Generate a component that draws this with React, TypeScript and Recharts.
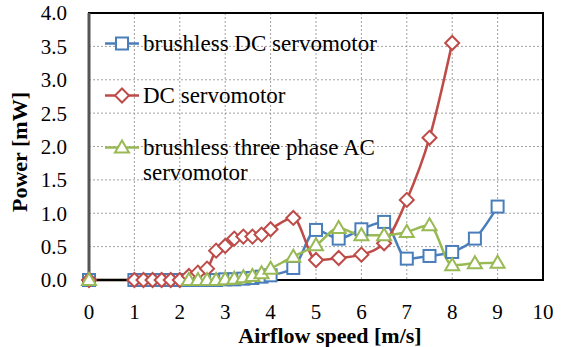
import {
  CartesianGrid,
  Label,
  Legend,
  Line,
  LineChart,
  ReferenceArea,
  XAxis,
  YAxis,
} from "recharts";

const speedTicks = [0, 1, 2, 3, 4, 5, 6, 7, 8, 9, 10];
const powerTicks = [0, 0.5, 1, 1.5, 2, 2.5, 3, 3.5, 4];

const brushlessDcSpeed = [
  0, 1, 1.2, 1.4, 1.6, 1.8, 2, 2.2, 2.4, 2.6, 2.8, 3, 3.2, 3.4, 3.6, 3.8, 4, 4.5, 5, 5.5, 6, 6.5, 7, 7.5,
  8, 8.5, 9,
];
const brushlessDcPower = [
  0, 0, 0, 0, 0, 0, 0, 0, 0, 0, 0, 0.01, 0.01, 0.02, 0.03, 0.05, 0.07, 0.18, 0.75, 0.62, 0.76, 0.87,
  0.32, 0.36, 0.42, 0.62, 1.1,
];

const dcSpeed = [
  0, 1, 1.2, 1.4, 1.6, 1.8, 2, 2.2, 2.4, 2.6, 2.8, 3, 3.2, 3.4, 3.6, 3.8, 4, 4.5, 5, 5.5, 6, 6.5, 7, 7.5,
  8,
];
const dcPower = [
  0, 0, 0, 0, 0, 0, 0, 0.06, 0.11, 0.17, 0.44, 0.51, 0.62, 0.65, 0.65, 0.68, 0.76, 0.93, 0.3, 0.33, 0.38,
  0.55, 1.2, 2.13, 3.55,
];

const acSpeed = [0, 2.2, 2.4, 2.6, 2.8, 3, 3.2, 3.4, 3.6, 3.8, 4, 4.5, 5, 5.5, 6, 6.5, 7, 7.5, 8, 8.5, 9];
const acPower = [
  0, 0, 0, 0, 0, 0.01, 0.02, 0.04, 0.06, 0.1, 0.17, 0.35, 0.52, 0.78, 0.67, 0.67, 0.72, 0.82, 0.22,
  0.25, 0.26,
];

const toPoints = (xs: number[], ys: number[]) => xs.map((speed, i) => ({ speed, power: ys[i] }));

const SERIF = "'Liberation Serif', 'Times New Roman', serif";
const BLUE = "#4a7ebb";
const RED = "#be4b48";
const GREEN = "#98b954";

type Shape = "square" | "diamond" | "triangle";

function Marker({ cx, cy, shape, color }: { cx: number; cy: number; shape: Shape; color: string }) {
  if (shape === "square") {
    return <rect x={cx - 6} y={cy - 6} width={12} height={12} fill="#fff" stroke={color} strokeWidth={2} />;
  }
  if (shape === "diamond") {
    return (
      <polygon
        points={`${cx},${cy - 7} ${cx + 7},${cy} ${cx},${cy + 7} ${cx - 7},${cy}`}
        fill="#fff"
        stroke={color}
        strokeWidth={2}
      />
    );
  }
  return (
    <polygon
      points={`${cx},${cy - 7} ${cx + 7},${cy + 5} ${cx - 7},${cy + 5}`}
      fill="#fff"
      stroke={color}
      strokeWidth={2}
    />
  );
}

const dotFor = (shape: Shape, color: string) => (props: any) =>
  <Marker key={`${shape}-${props.index}`} cx={props.cx} cy={props.cy} shape={shape} color={color} />;

const legendItems: { name: string; color: string; shape: Shape }[] = [
  { name: "brushless DC servomotor", color: BLUE, shape: "square" },
  { name: "DC servomotor", color: RED, shape: "diamond" },
  { name: "brushless three phase AC servomotor", color: GREEN, shape: "triangle" },
];

function LegendBox() {
  return (
    <div style={{ fontFamily: SERIF, fontSize: 23, color: "#000" }}>
      {legendItems.map((item) => (
        <div key={item.name} style={{ display: "flex", alignItems: "flex-start", marginBottom: 27 }}>
          <svg width={36} height={25} style={{ flex: "none" }}>
            <line x1={0} x2={34} y1={12.5} y2={12.5} stroke={item.color} strokeWidth={2.5} />
            <Marker cx={17} cy={12.5} shape={item.shape} color={item.color} />
          </svg>
          <span style={{ lineHeight: "25px", width: 250, marginLeft: 2 }}>{item.name}</span>
        </div>
      ))}
    </div>
  );
}

export default function App() {
  return (
    <div style={{ position: "absolute", left: 0, top: 0, width: 566, height: 347, background: "#fff" }}>
      <LineChart width={566} height={347} margin={{ top: 13, right: 23, bottom: 37, left: 0 }}>
        <CartesianGrid stroke="#a0a0a0" strokeDasharray="2 2" />
        <XAxis
          type="number"
          dataKey="speed"
          domain={[0, 10]}
          ticks={speedTicks}
          allowDuplicatedCategory={false}
          tick={{ fontSize: 21, fill: "#000", fontFamily: SERIF }}
          tickLine={false}
          tickSize={0}
          tickMargin={24}
          axisLine={{ stroke: "#000", strokeWidth: 2 }}
          height={30}
        >
          <Label
            content={() => (
              <text x={330} y={343} textAnchor="middle" fontFamily={SERIF} fontSize={22} fontWeight="bold">
                Airflow speed [m/s]
              </text>
            )}
          />
        </XAxis>
        <YAxis
          type="number"
          domain={[0, 4]}
          ticks={powerTicks}
          tickFormatter={(v: number) => v.toFixed(1)}
          tick={{ fontSize: 21, fill: "#000", fontFamily: SERIF }}
          tickLine={false}
          tickSize={0}
          tickMargin={22}
          axisLine={{ stroke: "#555", strokeWidth: 3 }}
          width={89}
        >
          <Label
            content={() => (
              <text
                x={27}
                y={152}
                textAnchor="middle"
                fontFamily={SERIF}
                fontSize={22}
                fontWeight="bold"
                transform="rotate(-90 27 152)"
              >
                Power [mW]
              </text>
            )}
          />
        </YAxis>
        <ReferenceArea x1={0} x2={10} y1={0} y2={4} fill="none" stroke="#000" strokeWidth={2} ifOverflow="visible" />
        <Legend
          layout="vertical"
          align="center"
          verticalAlign="middle"
          wrapperStyle={{ left: 105, top: 31, width: 300 }}
          content={() => <LegendBox />}
        />
        <Line
          data={toPoints(brushlessDcSpeed, brushlessDcPower)}
          dataKey="power"
          name="brushless DC servomotor"
          type="monotone"
          stroke={BLUE}
          strokeWidth={2.5}
          dot={dotFor("square", BLUE)}
          activeDot={false}
          isAnimationActive={false}
        />
        <Line
          data={toPoints(dcSpeed, dcPower)}
          dataKey="power"
          name="DC servomotor"
          type="monotone"
          stroke={RED}
          strokeWidth={2.5}
          dot={dotFor("diamond", RED)}
          activeDot={false}
          isAnimationActive={false}
        />
        <Line
          data={toPoints(acSpeed, acPower)}
          dataKey="power"
          name="brushless three phase AC servomotor"
          type="monotone"
          stroke={GREEN}
          strokeWidth={2.5}
          dot={dotFor("triangle", GREEN)}
          activeDot={false}
          isAnimationActive={false}
        />
      </LineChart>
    </div>
  );
}
